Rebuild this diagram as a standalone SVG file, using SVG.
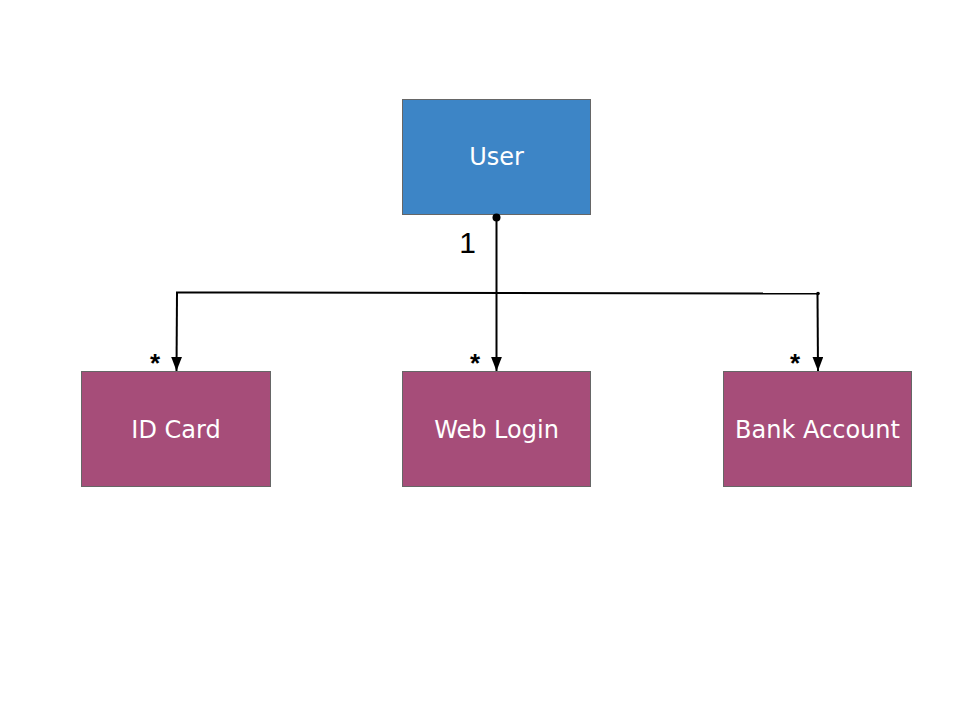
<svg xmlns="http://www.w3.org/2000/svg" width="960" height="720" viewBox="0 0 960 720">
<style>
.box{stroke:#666666;stroke-width:1}
.blue{fill:#3d85c6}
.purple{fill:#a64d79}
.lbl{font-family:"DejaVu Sans",Verdana,sans-serif;font-size:24px;fill:#ffffff;text-anchor:middle;dominant-baseline:central}
.conn{stroke:#000000;stroke-width:2;fill:none}
.mult{font-family:"Liberation Sans",Arial,sans-serif;fill:#000000;text-anchor:middle}
</style>
<defs>
<marker id="arr" viewBox="0 0 13 10" refX="13" refY="5" markerWidth="7" markerHeight="5.5" markerUnits="strokeWidth" orient="auto">
<path d="M0,0 L13,5 L0,10 z" fill="#000000"/>
</marker>
</defs>
<rect width="960" height="720" fill="#ffffff"/>
<g id="user"><rect class="box blue" x="402.5" y="99.5" width="188" height="115"/><text class="lbl" x="496.5" y="157">User</text></g>
<g id="idcard"><rect class="box purple" x="81.5" y="371.5" width="189" height="115"/><text class="lbl" x="176" y="429.5">ID Card</text></g>
<g id="weblogin"><rect class="box purple" x="402.5" y="371.5" width="188" height="115"/><text class="lbl" x="496.5" y="429.5">Web Login</text></g>
<g id="bankaccount"><rect class="box purple" x="723.5" y="371.5" width="188" height="115"/><text class="lbl" x="817.5" y="429.5">Bank Account</text></g>
<g id="connectors">
<circle cx="496.5" cy="217.5" r="4" fill="#000000"/>
<line class="conn" x1="496.5" y1="217.5" x2="496.5" y2="371" marker-end="url(#arr)"/>
<line class="conn" x1="176" y1="292.5" x2="818" y2="293.5"/>
<circle cx="818" cy="293.5" r="1.8" fill="#000000"/>
<line class="conn" x1="177" y1="292.5" x2="176.5" y2="371" marker-end="url(#arr)"/>
<line class="conn" x1="817.5" y1="293.5" x2="818" y2="371" marker-end="url(#arr)"/>
<text class="mult" x="467.5" y="253" font-size="30">1</text>
<text class="mult" x="155" y="372" font-size="26" font-weight="bold">*</text>
<text class="mult" x="475" y="372" font-size="26" font-weight="bold">*</text>
<text class="mult" x="795" y="372" font-size="26" font-weight="bold">*</text>
</g>
</svg>
